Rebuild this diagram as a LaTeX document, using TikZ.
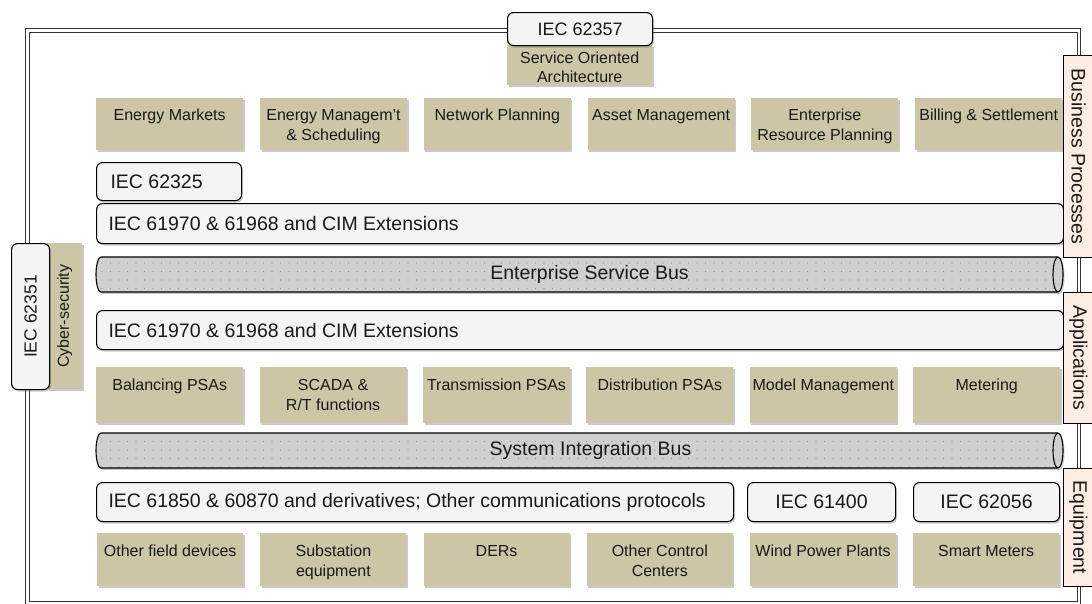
\documentclass[tikz,border=0pt]{standalone}
\usepackage{fontspec}
\setmainfont{Liberation Sans}
\usetikzlibrary{shadows,patterns.meta}
\definecolor{tanc}{RGB}{204,198,166}
\definecolor{peach}{RGB}{253,237,227}
\definecolor{boxc}{RGB}{244,244,244}
\definecolor{busc}{RGB}{208,208,208}
\definecolor{dotc}{RGB}{145,145,145}
\definecolor{txtc}{RGB}{25,25,25}
\newcommand\tbx[4]{\parbox[c][#1][t]{#2}{\centering\rule{0pt}{#3}#4\par}}
% cylinder: #1 left x, #2 right x, #3 top y, #4 bottom y
\newcommand\busshape[4]{%
  \path[fill=busc, shd, postaction={pattern={Dots[distance=8.5pt, radius=0.6pt]}, pattern color=dotc}]
    (#1+5,#3) -- (#2-5,#3) arc[start angle=90, end angle=-90, x radius=5pt, y radius=17.5pt]
    -- (#1+5,#4) arc[start angle=-90, end angle=-270, x radius=5pt, y radius=17.5pt] -- cycle;
  \draw[line width=1.1pt, line join=round]
    (#1+5,#3) -- (#2-5,#3) arc[start angle=90, end angle=-90, x radius=5pt, y radius=17.5pt]
    -- (#1+5,#4) arc[start angle=-90, end angle=-270, x radius=5pt, y radius=17.5pt] -- cycle;
  \draw[line width=1.1pt] (#2-5,#3) arc[start angle=90, end angle=270, x radius=5pt, y radius=17.5pt];
}
\tikzset{
  shd/.style={drop shadow={shadow xshift=1.5pt, shadow yshift=-2pt, opacity=0.3, fill=black!70}},
  tan/.style={fill=tanc, inner sep=0pt, shd, text=txtc, anchor=north west, font=\fontsize{16}{20}\selectfont},
  iec/.style={draw=black, fill=boxc, rounded corners=6pt, line width=1.1pt, shd, text=txtc, anchor=north west, inner ysep=0pt, font=\fontsize{19.5}{24}\selectfont},
  lab/.style={draw=black, fill=peach, line width=1pt, inner sep=0pt, minimum width=30pt, anchor=north west, text=txtc, font=\fontsize{19.5}{23}\selectfont},
  bustxt/.style={inner sep=0pt, text=txtc, font=\fontsize{19.5}{23}\selectfont},
  frameline/.style={line width=0.9pt, draw=black!80}
}
\begin{document}
\begin{tikzpicture}[x=1pt, y=-1pt]
\useasboundingbox (0,0) rectangle (1092,603);
\clip (0,0) rectangle (1092,603);
% outer frame (double line)
\draw[frameline] (25.5,28.5) rectangle (1080.5,605);
\draw[frameline] (29,32) rectangle (1077,601.5);

% top: IEC 62357 / SOA
\node[tan] (soa) at (507,45) {\tbx{40pt}{145pt}{18.5pt}{\fontsize{16}{18.5}\selectfont Service Oriented\\Architecture}};
\node[iec, minimum width=145pt, minimum height=33pt, inner xsep=0pt, font=\fontsize{18}{22}\selectfont] (i62357) at (507,12) {IEC 62357};

% row 1 business
\node[tan] (b1) at (96,98)    {\tbx{52pt}{147pt}{22pt}{Energy Markets}};
\node[tan] (b2) at (259.8,98) {\tbx{52pt}{147pt}{22pt}{Energy Managem’t\\\& Scheduling}};
\node[tan] (b3) at (423.6,98) {\tbx{52pt}{147pt}{22pt}{Network Planning}};
\node[tan] (b4) at (587.4,98) {\tbx{52pt}{147pt}{22pt}{Asset Management}};
\node[tan] (b5) at (751.2,98) {\tbx{52pt}{147pt}{22pt}{Enterprise\\Resource Planning}};
\node[tan] (b6) at (915,98)   {\tbx{52pt}{147pt}{22pt}{Billing \& Settlement}};

% IEC boxes upper
\node[iec, minimum height=38pt, inner xsep=14pt] (i62325) at (96,162) {\makebox[117pt][l]{IEC 62325}};
\node[iec, minimum height=40pt, inner xsep=12pt] (cim1) at (96,203) {\makebox[943pt][l]{IEC 61970 \& 61968 and CIM Extensions}};
\busshape{96}{1063}{257}{292}
\node[bustxt] (esb) at (589.5,274.5) {Enterprise Service Bus};
\node[iec, minimum height=39pt, inner xsep=12pt] (cim2) at (96,310) {\makebox[943pt][l]{IEC 61970 \& 61968 and CIM Extensions}};

% row 2 applications
\node[tan] (a1) at (96,367)    {\tbx{56pt}{147pt}{23.5pt}{Balancing PSAs}};
\node[tan] (a2) at (259.4,367) {\tbx{56pt}{147pt}{23.5pt}{SCADA \&\\R/T functions}};
\node[tan] (a3) at (422.8,367) {\tbx{56pt}{147pt}{23.5pt}{Transmission PSAs}};
\node[tan] (a4) at (586.2,367) {\tbx{56pt}{147pt}{23.5pt}{Distribution PSAs}};
\node[tan] (a5) at (749.6,367) {\tbx{56pt}{147pt}{23.5pt}{Model Management}};
\node[tan] (a6) at (913,367)   {\tbx{56pt}{147pt}{23.5pt}{Metering}};

\busshape{96}{1063}{433}{468}
\node[bustxt] (sib) at (590.5,450.5) {System Integration Bus};

% IEC boxes lower
\node[iec, minimum height=39pt, inner xsep=12pt] (i61850) at (96,482) {\makebox[613pt][l]{IEC 61850 \& 60870 and derivatives; Other communications protocols}};
\node[iec, minimum height=39pt, minimum width=148pt, inner xsep=0pt] (i61400) at (747,482) {IEC 61400};
\node[iec, minimum height=39pt, minimum width=146pt, inner xsep=0pt] (i62056) at (913,482) {IEC 62056};

% row 3 equipment
\node[tan] (e1) at (97,533)    {\tbx{53pt}{146pt}{23pt}{Other field devices}};
\node[tan] (e2) at (260.2,533) {\tbx{53pt}{146pt}{23pt}{Substation\\equipment}};
\node[tan] (e3) at (423.4,533) {\tbx{53pt}{146pt}{23pt}{DERs}};
\node[tan] (e4) at (586.6,533) {\tbx{53pt}{146pt}{23pt}{Other Control\\Centers}};
\node[tan] (e5) at (749.8,533) {\tbx{53pt}{146pt}{23pt}{Wind Power Plants}};
\node[tan] (e6) at (913,533)   {\tbx{53pt}{146pt}{23pt}{Smart Meters}};

% left: cyber-security
\node[tan, minimum width=35pt, minimum height=146pt] (cyb) at (47,243) {\rotatebox{90}{Cyber-security}};
\node[iec, minimum width=38pt, minimum height=146pt, inner sep=0pt, font=\fontsize{17.5}{21}\selectfont] (i62351) at (11,243) {\rotatebox{90}{IEC 62351}};

% right labels
\node[lab, minimum height=202pt] (lbp) at (1063,55) {\rotatebox{-90}{Business Processes}};
\node[lab, minimum height=131pt] (lap) at (1063,292) {\rotatebox{-90}{Applications}};
\node[lab, minimum height=118pt] (leq) at (1063,468) {\rotatebox{-90}{Equipment}};
\end{tikzpicture}
\end{document}
